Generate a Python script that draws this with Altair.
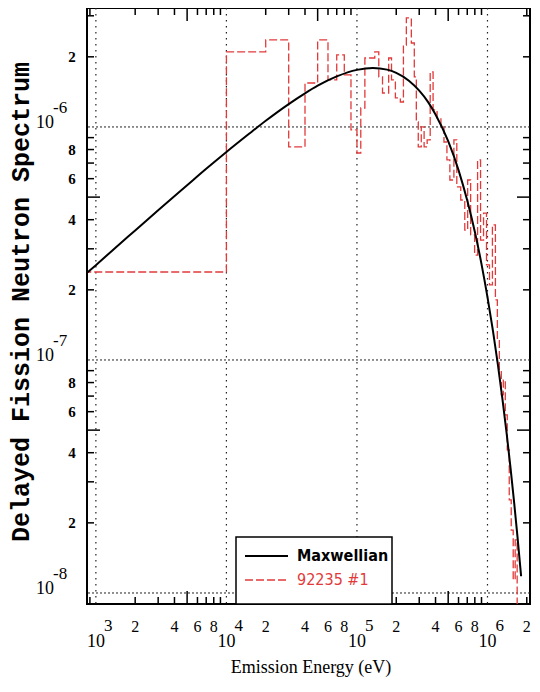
import altair as alt
import pandas as pd

# ---------------- data ----------------
# Maxwellian curve (energy in eV, spectrum value)
max_E = [855, 1000, 1500, 2000, 3000, 5000, 7000, 1e4, 1.5e4, 2e4, 3e4, 4e4, 5e4, 7e4,
         1e5, 1.325e5, 1.7e5, 2e5, 2.5e5, 3e5, 3.5e5, 4e5, 5e5, 6e5, 7e5, 8e5, 9e5,
         1e6, 1.1e6, 1.2e6, 1.3e6, 1.4e6, 1.5e6, 1.6e6, 1.7e6, 1.81e6]
max_V = [2.366e-7, 2.553e-7, 3.126e-7, 3.597e-7, 4.39e-7, 5.62e-7, 6.61e-7, 7.81e-7,
         9.37e-7, 1.063e-6, 1.254e-6, 1.394e-6, 1.503e-6, 1.648e-6, 1.758e-6, 1.791e-6,
         1.762e-6, 1.706e-6, 1.579e-6, 1.432e-6, 1.282e-6, 1.132e-6, 8.69e-7, 6.53e-7,
         4.83e-7, 3.55e-7, 2.58e-7, 1.862e-7, 1.34e-7, 9.59e-8, 6.85e-8, 4.88e-8,
         3.46e-8, 2.45e-8, 1.73e-8, 1.18e-8]

# 92235 #1 histogram: lower bin edges (last entry = upper edge) and bin values
hist_E = [800, 1e4, 2e4, 3e4, 4e4, 5e4, 6e4, 7e4, 8e4, 9e4, 1.0e5, 1.07e5, 1.15e5, 1.37e5,
          1.47e5, 1.57e5, 1.75e5, 1.84e5, 1.97e5, 2.15e5, 2.27e5, 2.39e5, 2.61e5, 2.75e5,
          2.85e5, 2.95e5, 3.11e5, 3.27e5, 3.45e5, 3.64e5, 3.83e5, 4.11e5, 4.4e5, 4.64e5,
          4.89e5, 5.15e5, 5.53e5, 5.82e5, 6.24e5, 6.7e5, 7.05e5, 7.43e5, 7.97e5, 8.4e5,
          8.85e5, 9.33e5, 9.83e5, 1.036e6, 1.091e6, 1.15e6, 1.19e6, 1.233e6, 1.276e6,
          1.322e6, 1.369e6, 1.417e6, 1.468e6, 1.52e6, 1.574e6, 1.63e6, 1.688e6, 1.748e6]
hist_V = [2.385e-7, 2.099e-6, 2.363e-6, 8.21e-7, 1.544e-6, 2.363e-6, 1.591e-6, 2.037e-6,
          1.672e-6, 9.71e-7, 7.73e-7, 1.206e-6, 1.977e-6, 2.099e-6, 1.639e-6, 1.399e-6,
          1.977e-6, 1.591e-6, 1.332e-6, 1.280e-6, 2.248e-6, 2.936e-6, 2.293e-6, 1.639e-6,
          1.051e-6, 8.21e-7, 1.0e-6, 8.21e-7, 8.8e-7, 1.722e-6, 1.183e-6, 1.093e-6,
          1.0e-6, 8.62e-7, 7.22e-7, 5.92e-7, 8.8e-7, 5.53e-7, 4.86e-7, 3.61e-7, 5.92e-7,
          3.44e-7, 2.82e-7, 7.22e-7, 3.27e-7, 4.27e-7, 2.56e-7, 2.10e-7, 3.80e-7, 1.81e-7,
          1.22e-7, 9.06e-8, 7.08e-8, 8.21e-8, 5.81e-8, 4.11e-8, 2.51e-8, 1.86e-8, 1.14e-8,
          1.69e-8, 7.66e-9, 7.66e-9]

series_names = ["Maxwellian", "92235 #1"]

# axis ticks / labels
x_decades = [1e3, 1e4, 1e5, 1e6]
x_decade_exp = ["3", "4", "5", "6"]
x_minor_lab_vals = [2e3, 4e3, 6e3, 8e3, 2e4, 4e4, 6e4, 8e4, 2e5, 4e5, 6e5, 8e5, 2e6]
x_minor_labs = ["2", "4", "6", "8", "2", "4", "6", "8", "2", "4", "6", "8", "2"]
x_ticks_short = [9e2, 2e3, 3e3, 4e3, 6e3, 7e3, 8e3, 9e3, 2e4, 3e4, 4e4, 6e4, 7e4, 8e4, 9e4,
                 2e5, 3e5, 4e5, 6e5, 7e5, 8e5, 9e5, 2e6]
x_ticks_long = [5e3, 5e4, 5e5]

y_decades = [1e-8, 1e-7, 1e-6]
y_decade_exp = ["-8", "-7", "-6"]
y_minor_lab_vals = [2e-8, 4e-8, 6e-8, 8e-8, 2e-7, 4e-7, 6e-7, 8e-7, 2e-6]
y_minor_labs = ["2", "4", "6", "8", "2", "4", "6", "8", "2"]
y_ticks_short = [2e-8, 3e-8, 4e-8, 6e-8, 7e-8, 8e-8, 9e-8, 2e-7, 3e-7, 4e-7, 6e-7, 7e-7,
                 8e-7, 9e-7, 2e-6, 3e-6]
y_ticks_long = [5e-8, 5e-7]

x_title = "Emission Energy (eV)"
y_title = "Delayed Fission Neutron Spectrum"

# ---------------- chart ----------------
W, H = 443, 596
RED = "#e23a3a"
xs = alt.Scale(type="log", domain=[855, 2.117e6], nice=False)
ys = alt.Scale(type="log", domain=[8.97e-9, 3.24e-6], nice=False)


def X(f="E"):
    return alt.X(f"{f}:Q", scale=xs, axis=None)


def Y(f="V"):
    return alt.Y(f"{f}:Q", scale=ys, axis=None)


one = pd.DataFrame({"k": [0]})
layers = []

# grid (dotted) at decades
layers.append(alt.Chart(pd.DataFrame({"E": x_decades})).mark_rule(
    color="#222", strokeWidth=1.2, strokeDash=[1.5, 4.5]).encode(x=X()))
layers.append(alt.Chart(pd.DataFrame({"V": y_decades})).mark_rule(
    color="#222", strokeWidth=1, strokeDash=[2, 2]).encode(y=Y()))

# inward ticks on all four sides
for vals, ln in [(x_ticks_short, 7), (x_ticks_long, 13)]:
    d = pd.DataFrame({"E": vals})
    layers.append(alt.Chart(d).mark_rule(color="black", strokeWidth=1.5).encode(
        x=X(), y=alt.value(H), y2=alt.value(H - ln)))
    layers.append(alt.Chart(d).mark_rule(color="black", strokeWidth=1.5).encode(
        x=X(), y=alt.value(0), y2=alt.value(ln)))
for vals, ln in [(y_ticks_short, 7), (y_ticks_long, 13)]:
    d = pd.DataFrame({"V": vals})
    layers.append(alt.Chart(d).mark_rule(color="black", strokeWidth=1.5).encode(
        y=Y(), x=alt.value(0), x2=alt.value(ln)))
    layers.append(alt.Chart(d).mark_rule(color="black", strokeWidth=1.5).encode(
        y=Y(), x=alt.value(W), x2=alt.value(W - ln)))

# histogram (red dashed step line)
hist_df = pd.DataFrame({"E": hist_E, "V": hist_V})
layers.append(alt.Chart(hist_df).mark_line(
    color=RED, strokeWidth=1.3, strokeDash=[8, 3], interpolate="step-after", clip=True
).encode(x=X(), y=Y(), order="E:Q"))

# Maxwellian (black)
max_df = pd.DataFrame({"E": max_E, "V": max_V})
layers.append(alt.Chart(max_df).mark_line(
    color="black", strokeWidth=2, interpolate="monotone", clip=True
).encode(x=X(), y=Y(), order="E:Q"))

# x tick labels
LFONT = "Liberation Serif"
xd = pd.DataFrame({"E": x_decades, "exp": x_decade_exp, "ten": ["10"] * 4})
layers.append(alt.Chart(xd).mark_text(font=LFONT, fontSize=18, align="center",
                                      baseline="middle").encode(
    x=X(), y=alt.value(634), text="ten:N"))
layers.append(alt.Chart(xd).mark_text(font=LFONT, fontSize=17, align="left",
                                      baseline="middle", dx=8).encode(
    x=X(), y=alt.value(618), text="exp:N"))
xm = pd.DataFrame({"E": x_minor_lab_vals, "lab": x_minor_labs})
layers.append(alt.Chart(xm).mark_text(font=LFONT, fontSize=16, align="center",
                                      baseline="middle").encode(
    x=X(), y=alt.value(619), text="lab:N"))

# y tick labels
yd = pd.DataFrame({"V": y_decades, "exp": y_decade_exp, "ten": ["10"] * 3})
layers.append(alt.Chart(yd).mark_text(font=LFONT, fontSize=18, align="center",
                                      baseline="middle", dy=-4).encode(
    y=Y(), x=alt.value(-42), text="ten:N"))
layers.append(alt.Chart(yd).mark_text(font=LFONT, fontSize=17, align="left",
                                      baseline="middle", dy=-19).encode(
    y=Y(), x=alt.value(-34), text="exp:N"))
ym = pd.DataFrame({"V": y_minor_lab_vals, "lab": y_minor_labs})
layers.append(alt.Chart(ym).mark_text(font=LFONT, fontSize=15, fontWeight="bold",
                                      align="center", baseline="middle").encode(
    y=Y(), x=alt.value(-15), text="lab:N"))

# axis titles
layers.append(alt.Chart(pd.DataFrame({"t": [x_title]})).mark_text(
    font=LFONT, fontSize=18, align="center", baseline="middle").encode(
    x=alt.value(224), y=alt.value(660), text="t:N"))
layers.append(alt.Chart(pd.DataFrame({"t": [y_title]})).mark_text(
    font="Liberation Mono", fontSize=25, fontWeight="bold", angle=270,
    align="center", baseline="middle").encode(
    x=alt.value(-66), y=alt.value(294), text="t:N"))

# legend box
layers.append(alt.Chart(one).mark_rect(fill="white", stroke="black", strokeWidth=1.5).encode(
    x=alt.value(149), x2=alt.value(305), y=alt.value(529), y2=alt.value(H)))
layers.append(alt.Chart(one).mark_rule(color="black", strokeWidth=2).encode(
    x=alt.value(158), x2=alt.value(201), y=alt.value(548)))
layers.append(alt.Chart(one).mark_rule(color=RED, strokeWidth=1.3, strokeDash=[8, 3]).encode(
    x=alt.value(158), x2=alt.value(201), y=alt.value(572)))
LEGFONT = "Liberation Sans Narrow, DejaVu Sans Condensed, Liberation Sans"
layers.append(alt.Chart(pd.DataFrame({"t": [series_names[0]]})).mark_text(
    font=LEGFONT, fontSize=16, fontWeight="bold", color="black", align="left",
    baseline="middle").encode(x=alt.value(210), y=alt.value(548), text="t:N"))
layers.append(alt.Chart(pd.DataFrame({"t": [series_names[1]]})).mark_text(
    font=LEGFONT, fontSize=16, color=RED, align="left",
    baseline="middle").encode(x=alt.value(210), y=alt.value(572), text="t:N"))

chart = alt.layer(*layers).properties(
    width=W, height=H, autosize="none",
    padding={"left": 79, "top": 0, "right": 2, "bottom": 78},
    background="white",
).configure_view(stroke="black", strokeWidth=2)

chart.save("out.html", embed_options={"renderer": "svg", "actions": False})
